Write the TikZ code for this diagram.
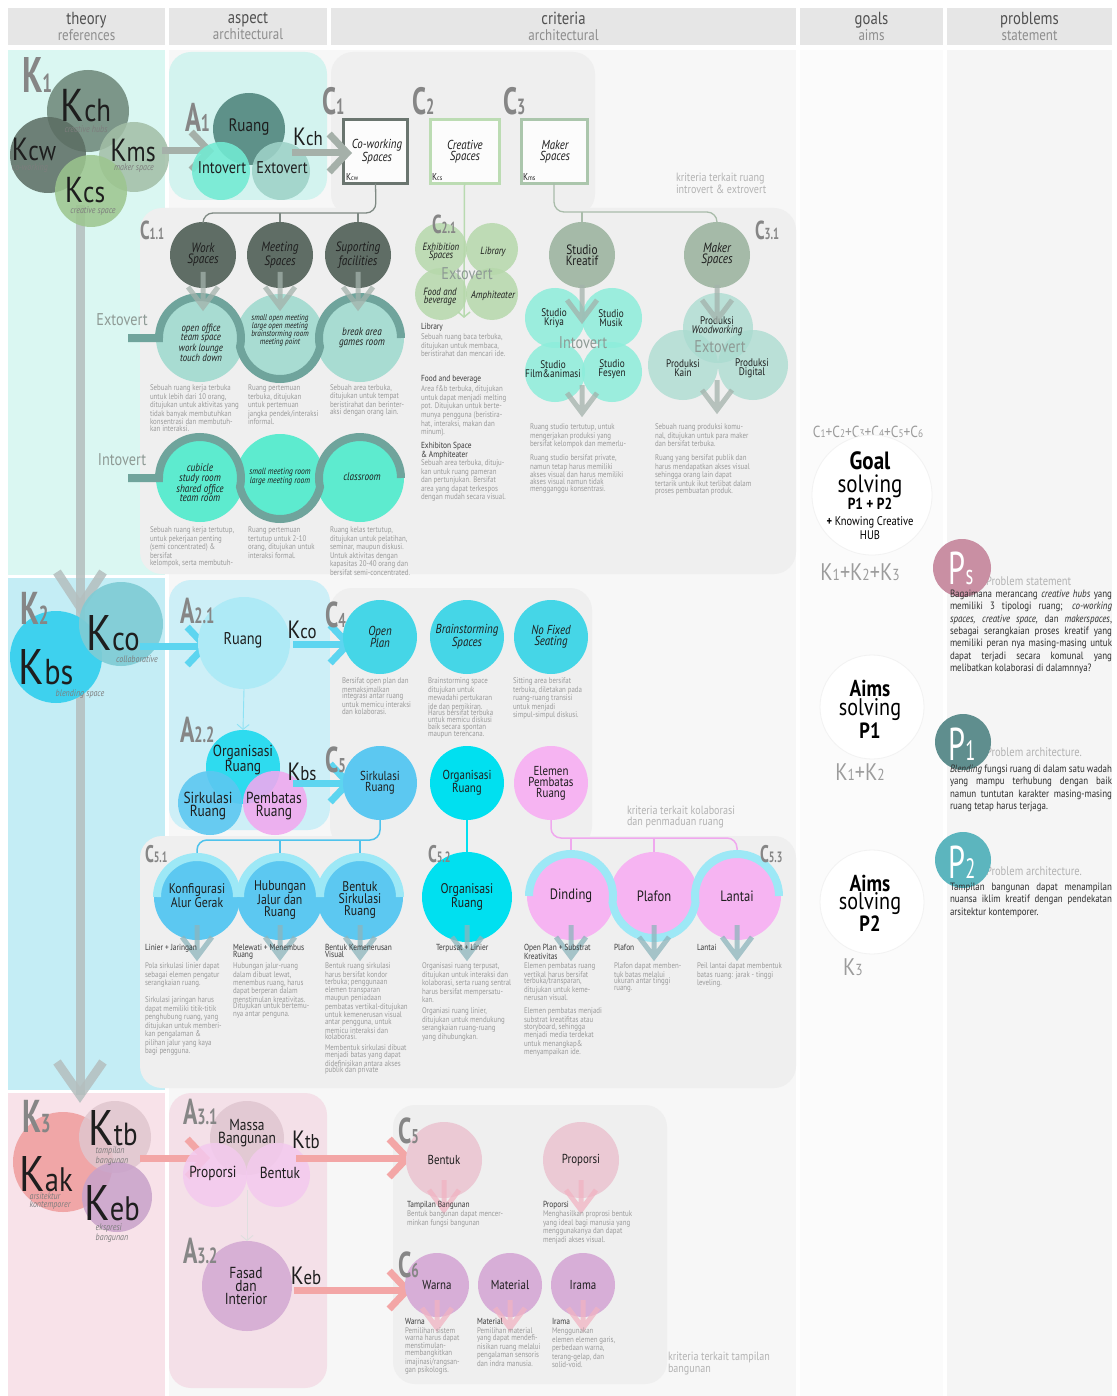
\documentclass[tikz,border=0pt]{standalone}
\usepackage{fontspec}
\setmainfont{PT Sans}[FakeStretch=0.84]
\newfontfamily\narrowf{PT Sans}[FakeStretch=0.66]
\usetikzlibrary{arrows.meta}
\newcommand\fs[2]{\fontsize{#1}{#2}\selectfont}
\newcommand\subf[2]{{\fs{#1}{#1}#2}}
\newcommand\kk[3]{{\fs{#1}{#1}K}{\fs{#2}{#2}#3}}
\newcommand\jl[1]{\hbox to 162pt{#1}}
\newcommand\jlast[1]{\hbox to 162pt{#1\hfil}}
\definecolor{hdrfill}{HTML}{E6E6E6}
\definecolor{hdrtxt}{HTML}{505050}
\definecolor{hdrsub}{HTML}{8E8E8E}
\definecolor{bgmain}{HTML}{F7F7F7}
\definecolor{panelc}{HTML}{EFEFEF}
\definecolor{goalbg}{HTML}{FBFBFB}
\definecolor{probbg}{HTML}{F5F5F5}
\definecolor{kone}{HTML}{DAF7F2}
\definecolor{ktwo}{HTML}{C4EDF5}
\definecolor{kthree}{HTML}{F8E2E9}
\definecolor{aone}{HTML}{D3F3EF}
\definecolor{atwo}{HTML}{CDEFF7}
\definecolor{athree}{HTML}{F4E0E8}
\definecolor{labgray}{HTML}{868686}
\definecolor{txt}{HTML}{1E1E1E}
\definecolor{descgray}{HTML}{9A9A9A}
\definecolor{subhc}{HTML}{3A3A3A}
\definecolor{capc}{HTML}{7D7D7D}
\definecolor{glc}{HTML}{8E9A95}
\definecolor{notec}{HTML}{B3B3B3}
\definecolor{partxt}{HTML}{2E2E2E}
\definecolor{trunkc}{HTML}{B4BEBE}
\definecolor{garrowc}{HTML}{A5B0A9}
\definecolor{chevc}{HTML}{A3B2AB}
\definecolor{kchc}{HTML}{6F897B}
\definecolor{kcwc}{HTML}{5B6C62}
\definecolor{kmsc}{HTML}{A2BEA6}
\definecolor{kcsc}{HTML}{9CC58E}
\definecolor{rua}{HTML}{5E9189}
\definecolor{intc}{HTML}{72EBD3}
\definecolor{extc}{HTML}{9ED3C8}
\definecolor{cboxa}{HTML}{6A756F}
\definecolor{cboxb}{HTML}{BCDCB3}
\definecolor{cboxc}{HTML}{ABC6AC}
\definecolor{darkc}{HTML}{5F6D65}
\definecolor{treec}{HTML}{7E8983}
\definecolor{treel}{HTML}{A9BCAA}
\definecolor{extfill}{HTML}{A8DCD2}
\definecolor{intfill}{HTML}{5DEBCF}
\definecolor{bandc}{HTML}{6FA49C}
\definecolor{greenc}{HTML}{B6D8AB}
\definecolor{greenl}{HTML}{B8DAB0}
\definecolor{studc}{HTML}{A5BAA8}
\definecolor{aquac}{HTML}{8DEDDB}
\definecolor{mkc}{HTML}{A9DBD0}
\definecolor{kbsc}{HTML}{3ED1EE}
\definecolor{kcoc}{HTML}{7FCCD5}
\definecolor{cyanarr}{HTML}{5DD5F0}
\definecolor{ruangb}{HTML}{AEEAF6}
\definecolor{orgc}{HTML}{2EDBEF}
\definecolor{sirc}{HTML}{5CC8F1}
\definecolor{pemc}{HTML}{F1A8EF}
\definecolor{cfour}{HTML}{45D6E7}
\definecolor{orgcb}{HTML}{00E0F0}
\definecolor{elc}{HTML}{F6B4F2}
\definecolor{blueband}{HTML}{9DE8F6}
\definecolor{bluetree}{HTML}{4FC3EC}
\definecolor{pinktree}{HTML}{EFA8EE}
\definecolor{chevb}{HTML}{8DB5BC}
\definecolor{kakc}{HTML}{F09E9E}
\definecolor{ktbc}{HTML}{E0C6CE}
\definecolor{kebc}{HTML}{C8A2CA}
\definecolor{pinkarr}{HTML}{F3A6A6}
\definecolor{massc}{HTML}{E2C9D3}
\definecolor{propc}{HTML}{F3C9EE}
\definecolor{fasc}{HTML}{D7B0D5}
\definecolor{cfivek}{HTML}{EBC9D4}
\definecolor{csixk}{HTML}{D7AED7}
\definecolor{chevp}{HTML}{F1B3C2}
\definecolor{psc}{HTML}{C98FA3}
\definecolor{ponec}{HTML}{5F8E8E}
\definecolor{ptwoc}{HTML}{5CB5BE}
\definecolor{goalring}{HTML}{F2F2F2}
\definecolor{sumc}{HTML}{9C9C9C}
\tikzset{
  every node/.style={inner sep=0pt, outer sep=0pt},
  cir/.style={circle, minimum size={2*#1}, inner sep=0pt},
  bl/.style={anchor=base west, text=labgray, font=\narrowf\bfseries},
  hdr/.style={fill=hdrfill, minimum height=37pt, align=center, text=hdrtxt, font=\fs{17.5}{16}},
  desc/.style={anchor=north west, align=left, text=descgray, font=\fs{8.2}{6.7}},
  subh/.style={anchor=north west, align=left, text=subhc, font=\fs{8.8}{7.2}},
  ct/.style={align=center, text=txt},
  kt/.style={text=txt, anchor=base},
  capt/.style={text=capc, font=\itshape\fs{9.5}{7.5}, align=left},
  gl/.style={text=glc, font=\fs{17}{17}},
  note/.style={anchor=north west, align=left, text=notec, font=\fs{12}{10.5}},
  garrow/.style={draw=garrowc, line width=7pt, -{Straight Barb[length=18pt, width=38pt]}},
  carrow/.style={garrow, draw=cyanarr},
  parrow/.style={garrow, draw=pinkarr},
  thinarr/.style={line width=0.9pt, -{Straight Barb[length=5pt, width=12pt]}},
  trunk/.style={draw=trunkc, line width=9pt, draw opacity=0.85, line join=miter},
  chv/.style={line width=5pt, draw opacity=0.75, line join=miter},
  bandst/.style={line width=8pt},
  tree/.style={line width=1.3pt, rounded corners=10pt},
  para/.style={anchor=north west, align=left, text=partxt, font=\fs{10.6}{12.3}},
}
\newcommand\dchev[4]{\draw[chv, draw=#4] (#1,#2) -- (#1,#3) (#1-15,#3-20) -- (#1,#3) -- (#1+15,#3-20);}
\begin{document}
\begin{tikzpicture}[x=1pt,y=-1pt]
\useasboundingbox (0,0) rectangle (1116,1396);
\fill[white] (0,0) rectangle (1116,1396);
% ---------- column backgrounds
\fill[bgmain] (169,50) rectangle (796,1396);
\fill[goalbg] (800,50) rectangle (943,1396);
\fill[probbg] (947,50) rectangle (1112,1396);
\fill[kone] (8,50) rectangle (165,575);
\fill[ktwo] (8,578) rectangle (165,1090);
\fill[kthree] (8,1093) rectangle (165,1396);
% ---------- headers
\node[hdr, minimum width=157pt] (hth) at (86.5,26.5) {theory\\{\fs{15.5}{15}\color{hdrsub}references}};
\node[hdr, minimum width=158pt] (has) at (248,26.5) {aspect\\{\fs{15.5}{15}\color{hdrsub}architectural}};
\node[hdr, minimum width=465pt] (hcr) at (563.5,26.5) {criteria\\{\fs{15.5}{15}\color{hdrsub}architectural}};
\node[hdr, minimum width=143pt] (hgo) at (871.5,26.5) {goals\\{\fs{15.5}{15}\color{hdrsub}aims}};
\node[hdr, minimum width=165pt] (hpr) at (1029.5,26.5) {problems\\{\fs{15.5}{15}\color{hdrsub}statement}};
% ---------- panels
\fill[aone, rounded corners=22pt] (169,52) rectangle (327,200);
\fill[panelc, rounded corners=22pt] (331,52) rectangle (595,216);
\fill[panelc, rounded corners=22pt] (140,208) rectangle (796,574);
\fill[atwo, rounded corners=22pt] (169,580) rectangle (330,830);
\fill[panelc, rounded corners=22pt] (330,588) rectangle (592,848);
\fill[panelc, rounded corners=22pt] (140,836) rectangle (796,1088);
\fill[athree, rounded corners=22pt] (169,1093) rectangle (327,1388);
\fill[panelc, rounded corners=22pt] (393,1105) rectangle (667,1384);
% ---------- trunk
\coordinate (trA) at (80,205);
\coordinate (trB) at (80,607);
\coordinate (trC) at (80,1095);
\draw[trunk] (trA) -- (trC);
\draw[trunk] (57,572) -- (trB) -- (103,572);
\draw[trunk] (57,1062) -- (trC) -- (103,1062);

% =============== K1 ===============
\node[cir=41, fill=kchc, fill opacity=0.88] (kch) at (88,111) {};
\node[cir=38, fill=kcwc, fill opacity=0.85] (kcw) at (48,155) {};
\node[cir=35, fill=kmsc, fill opacity=0.85] (kms) at (134,157) {};
\node[cir=36, fill=kcsc, fill opacity=0.85] (kcs) at (91,191) {};
\node[kt] (tkch) at (86,122) {\kk{46}{32}{ch}};
\node[capt] (ckch) at (86,129) {creative hubs};
\node[kt] (tkcw) at (34,161) {\kk{32}{28}{cw}};
\node[capt] (ckcw) at (30,168) {co-working};
\node[kt] (tkms) at (133,162) {\kk{32}{28}{ms}};
\node[capt] (ckms) at (134,168) {maker space};
\node[kt] (tkcs) at (85,203) {\kk{36}{30}{cs}};
\node[capt] (ckcs) at (93,211) {creative space};
\coordinate (kao) at (162,151);
\coordinate (kai) at (214,151);
\draw[garrow] (kao) -- (kai);
% A1
\node[cir=36, fill=rua] (a1r) at (249,129) {};
\node[cir=29, fill=intc, fill opacity=0.88] (a1i) at (221,171) {};
\node[cir=29, fill=extc, fill opacity=0.88] (a1e) at (281,171) {};
\node[ct, font=\fs{18}{18}] (ta1r) at (249,127) {Ruang};
\node[ct, font=\fs{17}{17}] (ta1i) at (222,168) {Intovert};
\node[ct, font=\fs{17}{17}] (ta1e) at (282,168) {Extovert};
\node[kt] (ka1) at (308,146) {\kk{25}{20}{ch}};
\coordinate (a1o) at (292,153);
% C boxes
\node[draw=cboxa, line width=3pt, fill=white, fill opacity=0.85, minimum width=64pt, minimum height=64pt] (c1box) at (375.5,151.5) {};
\node[draw=cboxb, line width=3pt, fill=white, fill opacity=0.85, minimum width=69pt, minimum height=64pt] (c2box) at (464.5,151.5) {};
\node[draw=cboxc, line width=3pt, fill=white, fill opacity=0.85, minimum width=66pt, minimum height=64pt] (c3box) at (554,151.5) {};
\draw[garrow] (a1o) -- (352,153);
\node[ct, font=\itshape\fs{13}{11}] (tc1) at (377,152) {Co-working\\Spaces};
\node[ct, font=\itshape\fs{13}{11}] (tc2) at (465,152) {Creative\\Spaces};
\node[ct, font=\itshape\fs{13}{11}] (tc3) at (555,152) {Maker\\Spaces};
\node[kt, anchor=base west] (kc1) at (346,181) {\kk{10}{7}{cw}};
\node[kt, anchor=base west] (kc2) at (432,181) {\kk{10}{7}{cs}};
\node[kt, anchor=base west] (kc3) at (523,181) {\kk{10}{7}{ms}};
\node[note] (nt1) at (676,173) {kriteria terkait ruang\\introvert \& extrovert};
% C1.1 tree
\node[cir=33, fill=darkc, ct, font=\itshape\fs{13.5}{11}] (ws) at (203,255) {Work\\Spaces};
\node[cir=33, fill=darkc, ct, font=\itshape\fs{13.5}{11}] (mts) at (280,255) {Meeting\\Spaces};
\node[cir=33, fill=darkc, ct, font=\itshape\fs{13.5}{11}] (sfc) at (358,255) {Suporting\\facilities};
\draw[tree, draw=treec] (c1box.south) -- (376,213) -- (203,213) -- (ws.north);
\coordinate (tba) at (280,213);
\coordinate (tbb) at (358,213);
\draw[tree, draw=treec] (tba) -- (mts.north);
\draw[tree, draw=treec] (tbb) -- (sfc.north);
% Extovert row
\node[gl] (lext) at (122,320) {Extovert};
\node[cir=44, fill=extfill] (ea) at (200,338) {};
\node[cir=44, fill=extfill] (eb) at (280,338) {};
\node[cir=44, fill=extfill] (ec) at (360,338) {};
\draw[bandst, draw=bandc] (128,338) -- (159,338) arc[start angle=180, end angle=372.68, radius=41] arc[start angle=167.32, end angle=12.68, radius=41] arc[start angle=167.32, end angle=360, radius=41];
\node[ct, font=\itshape\fs{10.5}{9}] (tea) at (201,343) {open office\\team space\\work lounge\\touch down};
\node[ct, font=\itshape\fs{8.5}{8}] (teb) at (280,330) {small open meeting\\large open meeting\\brainstorming room\\meeting point};
\node[ct, font=\itshape\fs{11}{10}] (tec) at (362,338) {break area\\games room};
\dchev{203}{272}{307}{chevc}
\dchev{280}{272}{307}{chevc}
\dchev{358}{272}{307}{chevc}
\node[desc] (dea) at (150,385) {Sebuah ruang kerja terbuka\\untuk lebih dari 10 orang,\\ditujukan untuk aktivitas yang\\tidak banyak membutuhkan\\konsentrasi dan membutuh-\\kan interaksi.};
\node[desc] (deb) at (248,385) {Ruang pertemuan\\terbuka, ditujukan\\untuk pertemuan\\jangka pendek/interaksi\\informal.};
\node[desc] (dec) at (330,385) {Sebuah area terbuka,\\ditujukan untuk tempat\\beristirahat dan berinter-\\aksi dengan orang lain.};
% Intovert row
\node[gl] (lint) at (122,460) {Intovert};
\node[cir=44, fill=intfill] (ia) at (200,478) {};
\node[cir=44, fill=intfill] (ib) at (280,478) {};
\node[cir=44, fill=intfill] (ic) at (360,478) {};
\draw[bandst, draw=bandc] (128,478) -- (159,478) arc[start angle=180, end angle=372.68, radius=41] arc[start angle=167.32, end angle=12.68, radius=41] arc[start angle=167.32, end angle=360, radius=41];
\node[ct, font=\itshape\fs{11}{9.5}] (tia) at (200,483) {cubicle\\study room\\shared office\\team room};
\node[ct, font=\itshape\fs{9}{8.5}] (tib) at (280,477) {small meeting room\\large meeting room};
\node[ct, font=\itshape\fs{11}{10}] (tic) at (362,477) {classroom};
\node[desc] (dia) at (150,527) {Sebuah ruang kerja tertutup,\\untuk pekerjaan penting\\(semi concentrated) \&\\bersifat\\kelompok, serta membutuh-};
\node[desc] (dib) at (248,527) {Ruang pertemuan\\tertutup untuk 2-10\\orang, ditujukan untuk\\interaksi formal.};
\node[desc] (dic) at (330,527) {Ruang kelas tertutup,\\ditujukan untuk pelatihan,\\seminar, maupun diskusi.\\Untuk aktivitas dengan\\kapasitas 20-40 orang dan\\bersifat semi-concentrated.};
% C2.1
\coordinate (c2end) at (464,318);
\draw[thinarr, draw=greenl, line width=1.5pt] (c2box.south) -- (c2end);
\node[cir=26, fill=greenc, fill opacity=0.85] (gex) at (441,249) {};
\node[cir=26, fill=greenc, fill opacity=0.85] (gli) at (492,249) {};
\node[cir=26, fill=greenc, fill opacity=0.85] (gfo) at (441,294) {};
\node[cir=26, fill=greenc, fill opacity=0.85] (gam) at (492,294) {};
\node[gl] (lgext) at (467,274) {Extovert};
\node[ct, font=\itshape\fs{10.5}{8.5}] (tgex) at (441,252) {Exhibition\\Spaces};
\node[ct, font=\itshape\fs{10.5}{8.5}] (tgli) at (493,252) {Library};
\node[ct, font=\itshape\fs{10.5}{8.5}] (tgfo) at (440,297) {Food and\\beverage};
\node[ct, font=\itshape\fs{10.5}{8.5}] (tgam) at (493,296) {Amphiteater};
\node[subh] (sgl) at (421,323) {Library};
\node[desc] (dgl) at (421,334) {Sebuah ruang baca terbuka,\\ditujukan untuk membaca,\\beristirahat dan mencari ide.};
\node[subh] (sgf) at (421,375) {Food and beverage};
\node[desc] (dgf) at (421,386) {Area f\&b terbuka, ditujukan\\untuk dapat menjadi melting\\pot. Ditujukan untuk berte-\\munya pengguna (beristira-\\hat, interaksi, makan dan\\minum).};
\node[subh] (sge) at (421,442) {Exhibiton Space\\\& Amphiteater};
\node[desc] (dge) at (421,460) {Sebuah area terbuka, dituju-\\kan untuk ruang pameran\\dan pertunjukan. Bersifat\\area yang dapat terkespos\\dengan mudah secara visual.};
% C3 tree / studio / maker
\node[cir=33, fill=studc, ct, font=\fs{13.5}{11}] (stk) at (582,255) {Studio\\Kreatif};
\node[cir=33, fill=studc, ct, font=\itshape\fs{13.5}{11}] (msp) at (717,255) {Maker\\Spaces};
\draw[tree, draw=treel] (c3box.south) -- (554,212) -- (717,212) -- (msp.north);
\coordinate (tbc) at (582,212);
\draw[tree, draw=treel] (tbc) -- (stk.north);
\node[cir=30, fill=aquac, fill opacity=0.85] (sa) at (555,318) {};
\node[cir=30, fill=aquac, fill opacity=0.85] (sb) at (612,318) {};
\node[cir=30, fill=aquac, fill opacity=0.85] (sc) at (555,372) {};
\node[cir=30, fill=aquac, fill opacity=0.85] (sd) at (612,372) {};
\node[gl] (lsint) at (583,343) {Intovert};
\node[ct, font=\fs{11}{9}] (tsa) at (554,318) {Studio\\Kriya};
\node[ct, font=\fs{11}{9}] (tsb) at (611,318) {Studio\\Musik};
\node[ct, font=\fs{11}{9}] (tsc) at (553,369) {Studio\\Film\&animasi};
\node[ct, font=\fs{11}{9}] (tsd) at (612,369) {Studio\\Fesyen};
\dchev{582}{285}{320}{chevc}
\dchev{582}{385}{413}{chevc}
\node[cir=35, fill=mkc, fill opacity=0.75] (ma) at (718,328) {};
\node[cir=35, fill=mkc, fill opacity=0.75] (mb) at (683,365) {};
\node[cir=35, fill=mkc, fill opacity=0.75] (mc) at (753,365) {};
\node[gl] (lmext) at (720,347) {Extovert};
\node[ct, font=\fs{11}{9}] (tma) at (717,326) {Produksi\\\textit{Woodworking}};
\node[ct, font=\fs{11}{9}] (tmb) at (683,368) {Produksi\\Kain};
\node[ct, font=\fs{11}{9}] (tmc) at (752,368) {Produksi\\Digital};
\dchev{717}{285}{320}{chevc}
\dchev{717}{380}{410}{chevc}
\node[desc] (dsa) at (530,424) {Ruang studio tertutup, untuk\\mengerjakan produksi yang\\bersifat kelompok dan memerlu-};
\node[desc] (dsb) at (530,455) {Ruang studio bersifat private,\\namun tetap harus memiliki\\akses visual dan harus memiliki\\akses visual namun tidak\\mengganggu konsentrasi.};
\node[desc] (dma) at (655,424) {Sebuah ruang produksi komu-\\nal, ditujukan untuk para maker\\dan bersifat terbuka.};
\node[desc] (dmb) at (655,455) {Ruang yang bersifat publik dan\\harus mendapatkan akses visual\\sehingga orang lain dapat\\tertarik untuk ikut terlibat dalam\\proses pembuatan produk.};

% =============== K2 ===============
\node[cir=46, fill=kbsc] (kbs) at (56,657) {};
\node[cir=42, fill=kcoc, fill opacity=0.92] (kco) at (121,624) {};
\node[kt] (tkco) at (113,650) {\kk{50}{34}{co}};
\node[capt] (ckco) at (137,659) {collaborative};
\node[kt] (tkbs) at (46,684) {\kk{50}{36}{bs}};
\node[capt] (ckbs) at (80,694) {blending space};
\coordinate (kbo) at (140,646);
\coordinate (kbi) at (210,646);
\draw[carrow] (kbo) -- (kbi);
\node[cir=46, fill=ruangb] (a21r) at (244,643) {};
\node[ct, font=\fs{17}{17}] (ta21) at (243,640) {Ruang};
\node[kt] (ka21) at (302,638) {\kk{25}{20}{co}};
\coordinate (a21o) at (293,644);
\draw[carrow] (a21o) -- (353,644);
\node[cir=37, fill=orgc] (a22o) at (243,767) {};
\node[cir=32, fill=sirc, fill opacity=0.9] (a22s) at (210,803) {};
\node[cir=32, fill=pemc, fill opacity=0.88] (a22p) at (275,803) {};
\draw[thinarr, draw=cyanarr!70] (a21r.south) -- (a22o.north);
\node[ct, font=\fs{16}{13}] (ta22o) at (243,760) {Organisasi\\Ruang};
\node[ct, font=\fs{16}{13}] (ta22s) at (208,806) {Sirkulasi\\Ruang};
\node[ct, font=\fs{16}{13}] (ta22p) at (274,806) {Pembatas\\Ruang};
\node[kt] (ka22) at (302,780) {\kk{25}{20}{bs}};
\coordinate (a22out) at (293,783);
\draw[carrow] (a22out) -- (353,783);
% C4
\node[cir=37, fill=cfour, ct, font=\itshape\fs{13}{11}] (c4a) at (380,637) {Open\\Plan};
\node[cir=37, fill=cfour, ct, font=\itshape\fs{13}{11}] (c4b) at (467,637) {Brainstorming\\Spaces};
\node[cir=37, fill=cfour, ct, font=\itshape\fs{13}{11}] (c4c) at (551,637) {No Fixed\\Seating};
\node[desc] (d4a) at (342,678) {Bersifat open plan dan\\memaksimalkan\\integrasi antar ruang\\untuk memicu interaksi\\dan kolaborasi.};
\node[desc] (d4b) at (428,678) {Brainstorming space\\ditujukan untuk\\mewadahi pertukaran\\ide dan pemikiran.};
\node[desc] (d4c) at (428,710) {Harus bersifat terbuka\\untuk memicu diskusi\\baik secara spontan\\maupun terencana.};
\node[desc] (d4d) at (513,678) {Sitting area bersifat\\terbuka, diletakan pada\\ruang-ruang transisi\\untuk menjadi\\simpul-simpul diskusi.};
% C5
\node[note] (nt2) at (627,806) {kriteria terkait kolaborasi\\dan penmaduan ruang};
\draw[tree, draw=bluetree, line width=1.5pt] (380,818) -- (380,840) -- (197,840) -- (197,856);
\coordinate (btb) at (280,840);
\coordinate (btc) at (360,840);
\draw[tree, draw=bluetree, line width=1.5pt] (btb) -- (280,856);
\draw[tree, draw=bluetree, line width=1.5pt] (btc) -- (360,856);
\draw[draw=orgcb, line width=1.5pt] (467,818) -- (467,856);
\draw[tree, draw=pinktree, line width=1.5pt] (551,818) -- (551,838) -- (737,838) -- (737,856);
\coordinate (ptb) at (571,838);
\coordinate (ptc) at (654,838);
\draw[tree, draw=pinktree, line width=1.5pt] (ptb) -- (571,856);
\draw[tree, draw=pinktree, line width=1.5pt] (ptc) -- (654,856);
\node[cir=37, fill=sirc, ct, font=\fs{13}{11}] (c5a) at (380,783) {Sirkulasi\\Ruang};
\node[cir=37, fill=orgcb, ct, font=\fs{13}{11}] (c5b) at (467,783) {Organisasi\\Ruang};
\node[cir=37, fill=elc, ct, font=\fs{13}{11}] (c5c) at (551,783) {Elemen\\Pembatas\\Ruang};
% C5.1 - C5.3
\node[cir=43, fill=sirc] (s1a) at (197,897) {};
\node[cir=43, fill=sirc] (s1b) at (280,897) {};
\node[cir=43, fill=sirc] (s1c) at (360,897) {};
\draw[bandst, draw=blueband] (157,897) arc[start angle=180, end angle=360, radius=40];
\draw[bandst, draw=blueband] (240,897) arc[start angle=180, end angle=360, radius=40];
\draw[bandst, draw=blueband] (320,897) arc[start angle=180, end angle=360, radius=40];
\node[ct, font=\fs{14}{12}] (ts1a) at (197,896) {Konfigurasi\\Alur Gerak};
\node[ct, font=\fs{14}{12}] (ts1b) at (280,900) {Hubungan\\Jalur dan\\Ruang};
\node[ct, font=\fs{14}{12}] (ts1c) at (360,900) {Bentuk\\Sirkulasi\\Ruang};
\node[cir=45, fill=orgcb, ct, font=\fs{14}{12}] (s2a) at (467,897) {Organisasi\\Ruang};
\node[cir=44, fill=elc] (s3a) at (571,896) {};
\node[cir=44, fill=elc] (s3b) at (654,896) {};
\node[cir=44, fill=elc] (s3c) at (737,896) {};
\draw[bandst, draw=blueband] (529,896) arc[start angle=180, end angle=368.86, radius=42] arc[start angle=171.14, end angle=8.86, radius=42] arc[start angle=171.14, end angle=360, radius=42];
\node[ct, font=\fs{15}{15}] (ts3a) at (571,896) {Dinding};
\node[ct, font=\fs{15}{15}] (ts3b) at (654,896) {Plafon};
\node[ct, font=\fs{15}{15}] (ts3c) at (737,896) {Lantai};
\dchev{197}{925}{957}{chevb}
\dchev{280}{925}{957}{chevb}
\dchev{360}{925}{957}{chevb}
\dchev{467}{925}{957}{chevb}
\dchev{571}{925}{957}{chevb}
\dchev{654}{925}{957}{chevb}
\dchev{737}{925}{957}{chevb}
\node[subh] (h51a) at (145,944) {Linier + Jaringan};
\node[desc] (d51a) at (145,963) {Pola sirkulasi linier dapat\\sebagai elemen pengatur\\serangkaian ruang.};
\node[desc] (d51b) at (145,997) {Sirkulasi jaringan harus\\dapat memiliki titik-titik\\penghubung ruang, yang\\ditujukan untuk memberi-\\kan pengalaman \&\\pilihan jalur yang kaya\\bagi pengguna.};
\node[subh] (h51b) at (233,944) {Melewati + Menembus\\Ruang};
\node[desc] (d51c) at (233,963) {Hubungan jalur-ruang\\dalam dibuat lewat,\\menembus ruang, harus\\dapat berperan dalam\\menstimulan kreativitas.\\Ditujukan untuk bertemu-\\nya antar penguna.};
\node[subh] (h51c) at (325,944) {Bentuk Kemenerusan\\Visual};
\node[desc] (d51d) at (325,963) {Bentuk ruang sirkulasi\\harus bersifat kondor\\terbuka; penggunaan\\elemen transparan\\maupun peniadaan\\pembatas vertikal-ditujukan\\untuk kemenerusan visual\\antar pengguna, untuk\\memicu interaksi dan\\kolaborasi.};
\node[desc] (d51e) at (325,1045) {Membentuk sirkulasi dibuat\\menjadi batas yang dapat\\didefinisikan antara akses\\publik dan private};
\node[subh] (h52a) at (436,944) {Terpusat + Linier};
\node[desc] (d52a) at (422,963) {Organisasi ruang terpusat,\\ditujukan untuk interaksi dan\\kolaborasi, serta ruang sentral\\harus bersifat mempersatu-\\kan.};
\node[desc] (d52b) at (422,1008) {Organiasi ruang linier,\\ditujukan untuk mendukung\\serangkaian ruang-ruang\\yang dihubungkan.};
\node[subh] (h53a) at (524,944) {Open Plan + Substrat\\Kreativitas};
\node[desc] (d53a) at (524,963) {Elemen pembatas ruang\\vertikal harus bersifat\\terbuka/transparan,\\ditujukan untuk keme-\\nerusan visual.};
\node[desc] (d53b) at (524,1008) {Elemen pembatas menjadi\\substrat kreatifitas atau\\storyboard, sehingga\\menjadi media terdekat\\untuk menangkap\&\\menyampaikan ide.};
\node[subh] (h53b) at (614,944) {Plafon};
\node[desc] (d53c) at (614,963) {Plafon dapat memben-\\tuk batas melalui\\ukuran antar tinggi\\ruang.};
\node[subh] (h53c) at (697,944) {Lantai};
\node[desc] (d53d) at (697,963) {Peil lantai dapat membentuk\\batas ruang: jarak - tinggi\\leveling.};

% =============== K3 ===============
\node[cir=50, fill=kakc, fill opacity=0.88] (kak) at (63,1162) {};
\node[cir=36, fill=ktbc, fill opacity=0.85] (ktb) at (115,1137) {};
\node[cir=35, fill=kebc, fill opacity=0.85] (keb) at (117,1197) {};
\node[kt] (tktb) at (113,1145) {\kk{50}{32}{tb}};
\node[capt, font=\itshape\fs{9.5}{7.5}] (cktb) at (112,1156) {tampilan\\bangunan};
\node[kt] (tkak) at (46,1191) {\kk{50}{34}{ak}};
\node[capt] (ckak) at (50,1201) {arsitektur\\kontemporer};
\node[kt] (tkeb) at (112,1220) {\kk{50}{34}{eb}};
\node[capt] (ckeb) at (112,1233) {ekspresi\\bangunan};
\coordinate (kco3) at (140,1158);
\coordinate (kci3) at (210,1158);
\draw[parrow] (kco3) -- (kci3);
\node[cir=37, fill=massc] (a31m) at (247,1138) {};
\node[cir=32, fill=propc, fill opacity=0.85] (a31p) at (215,1175) {};
\node[cir=32, fill=propc, fill opacity=0.85] (a31b) at (278,1175) {};
\node[ct, font=\fs{16}{13}] (ta31m) at (247,1133) {Massa\\Bangunan};
\node[ct, font=\fs{16}{16}] (ta31p) at (213,1173) {Proporsi};
\node[ct, font=\fs{16}{16}] (ta31b) at (280,1173) {Bentuk};
\node[kt] (ka31) at (306,1148) {\kk{25}{20}{tb}};
\coordinate (a31o) at (296,1158);
\draw[parrow] (a31o) -- (412,1158);
\node[cir=45, fill=fasc] (a32f) at (247,1286) {};
\coordinate (a31d) at (247,1190);
\draw[thinarr, draw=white!75!gray] (a31d) -- (a32f.north);
\node[ct, font=\fs{16}{13}] (ta32f) at (246,1286) {Fasad\\dan\\Interior};
\node[kt] (ka32) at (306,1284) {\kk{25}{20}{eb}};
\coordinate (a32o) at (294,1290);
\draw[parrow] (a32o) -- (412,1290);
\node[cir=38, fill=cfivek, ct, font=\fs{13}{13}] (k5a) at (444,1160) {Bentuk};
\node[cir=38, fill=cfivek, ct, font=\fs{13}{13}] (k5b) at (581,1160) {Proporsi};
\dchev{444}{1180}{1210}{chevp}
\dchev{581}{1180}{1210}{chevp}
\node[subh] (h5ka) at (407,1201) {Tampilan Bangunan};
\node[desc] (d5ka) at (407,1211) {Bentuk bangunan dapat mencer-\\minkan fungsi bangunan};
\node[subh] (h5kb) at (543,1201) {Proporsi};
\node[desc] (d5kb) at (543,1211) {Menghasilkan proprosi bentuk\\yang ideal bagi manusia yang\\menggunakanya dan dapat\\menjadi akses visual.};
\node[cir=32, fill=csixk, ct, font=\fs{13}{13}] (k6a) at (437,1285) {Warna};
\node[cir=32, fill=csixk, ct, font=\fs{13}{13}] (k6b) at (510,1285) {Material};
\node[cir=32, fill=csixk, ct, font=\fs{13}{13}] (k6c) at (583,1285) {Irama};
\dchev{437}{1300}{1328}{chevp}
\dchev{510}{1300}{1328}{chevp}
\dchev{583}{1300}{1328}{chevp}
\node[subh] (h6a) at (405,1318) {Warna};
\node[desc] (d6a) at (405,1328) {Pemilihan sistem\\warna harus dapat\\menstimulan-\\membangkitkan\\imajinasi/rangsan-\\gan psikologis.};
\node[subh] (h6b) at (477,1318) {Material};
\node[desc] (d6b) at (477,1328) {Pemilihan material\\yang dapat mendefi-\\nisikan ruang melalui\\pengalaman sensoris\\dan indra manusia.};
\node[subh] (h6c) at (552,1318) {Irama};
\node[desc] (d6c) at (552,1328) {Menggunakan\\elemen elemen garis,\\perbedaan warna,\\terang-gelap, dan\\solid-void.};
\node[note] (nt3) at (668,1352) {kriteria terkait tampilan\\bangunan};

% =============== big labels (on top) ===============
\node[bl] (lk1) at (22,93) {\subf{50}{K}\subf{26}{1}};
\node[bl] (la1) at (185,132) {\subf{40}{A}\subf{24}{1}};
\node[bl] (lc1) at (322,115) {\subf{38}{C}\subf{22}{1}};
\node[bl] (lc2) at (412,115) {\subf{38}{C}\subf{22}{2}};
\node[bl] (lc3) at (503,115) {\subf{38}{C}\subf{22}{3}};
\node[bl] (lc11) at (140,240) {\subf{26}{C}\subf{16}{1.1}};
\node[bl] (lc21) at (432,234) {\subf{26}{C}\subf{16}{2.1}};
\node[bl] (lc31) at (755,240) {\subf{26}{C}\subf{16}{3.1}};
\node[bl] (lk2) at (20,624) {\subf{46}{K}\subf{26}{2}};
\node[bl] (la21) at (180,623) {\subf{36}{A}\subf{22}{2.1}};
\node[bl] (la22) at (180,742) {\subf{36}{A}\subf{22}{2.2}};
\node[bl] (lc4) at (325,627) {\subf{36}{C}\subf{20}{4}};
\node[bl] (lc5) at (325,772) {\subf{36}{C}\subf{20}{5}};
\node[bl] (lc51) at (145,862) {\subf{24}{C}\subf{15}{5.1}};
\node[bl] (lc52) at (428,862) {\subf{24}{C}\subf{15}{5.2}};
\node[bl] (lc53) at (760,862) {\subf{24}{C}\subf{15}{5.3}};
\node[bl] (lk3) at (22,1132) {\subf{46}{K}\subf{26}{3}};
\node[bl] (la31) at (183,1124) {\subf{36}{A}\subf{22}{3.1}};
\node[bl] (la32) at (183,1263) {\subf{36}{A}\subf{22}{3.2}};
\node[bl] (lc5k) at (398,1143) {\subf{36}{C}\subf{20}{5}};
\node[bl] (lc6k) at (398,1277) {\subf{36}{C}\subf{20}{6}};

% =============== goals ===============
\node[text=sumc, font=\fs{16}{16}] (csum) at (868,432) {C\subf{11}{1}+C\subf{11}{2}+C\subf{11}{3}+C\subf{11}{4}+C\subf{11}{5}+C\subf{11}{6}};
\node[cir=60, fill=white, draw=goalring, line width=0.8pt] (goalc) at (872,495) {};
\node[font=\bfseries\fs{25}{25}, text=black] (goalt) at (870,461) {Goal};
\node[font=\fs{25}{25}, text=black] (goals) at (870,486) {solving};
\node[font=\bfseries\fs{16}{16}, text=black] (goalp) at (870,504) {P1 + P2};
\node[font=\fs{12.5}{13.5}, align=center, text=black] (goalk) at (870,528) {\textbf{+} Knowing Creative\\HUB};
\node[text=sumc, font=\fs{24}{24}] (ksum) at (860,572) {K\subf{16}{1}+K\subf{16}{2}+K\subf{16}{3}};
\node[cir=52, fill=white, draw=goalring, line width=0.8pt] (aimc1) at (872,707) {};
\node[font=\bfseries\fs{23}{23}, text=black] (aim1t) at (870,688) {Aims};
\node[font=\fs{24}{24}, text=black] (aim1s) at (870,710) {solving};
\node[font=\bfseries\fs{22}{22}, text=black] (aim1p) at (870,731) {P1};
\node[text=sumc, font=\fs{24}{24}] (ksum2) at (860,772) {K\subf{16}{1}+K\subf{16}{2}};
\node[cir=52, fill=white, draw=goalring, line width=0.8pt] (aimc2) at (872,902) {};
\node[font=\bfseries\fs{23}{23}, text=black] (aim2t) at (870,883) {Aims};
\node[font=\fs{24}{24}, text=black] (aim2s) at (870,904) {solving};
\node[font=\bfseries\fs{22}{22}, text=black] (aim2p) at (870,924) {P2};
\node[text=sumc, font=\fs{24}{24}] (ksum3) at (853,967) {K\subf{16}{3}};

% =============== problems ===============
\node[anchor=base west, text=notec, font=\fs{12.5}{12.5}] (pshead) at (986,585) {Problem statement};
\node[cir=29, fill=psc] (psc) at (962,568) {};
\node[anchor=base, text=white, font=\narrowf] (pst) at (961,584) {\subf{46}{P}\subf{28}{s}};
\node[para] (pspar) at (950,590) {\jl{Bagaimana merancang \textit{creative hubs} yang}\\\jl{memiliki 3 tipologi ruang; \textit{co-working}}\\\jl{\textit{spaces, creative space,} dan \textit{makerspaces},}\\\jl{sebagai serangkaian proses kreatif yang}\\\jl{memiliki peran nya masing-masing untuk}\\\jl{dapat terjadi secara komunal yang}\\\jlast{melibatkan kolaborasi di dalamnnya?}};
\node[anchor=base west, text=notec, font=\fs{12.5}{12.5}] (p1head) at (986,756) {Problem architecture.};
\node[cir=28, fill=ponec] (p1c) at (963,742) {};
\node[anchor=base, text=white, font=\narrowf] (p1t) at (962,760) {\subf{46}{P}\subf{28}{1}};
\node[para] (p1par) at (950,765) {\jl{\textit{Blending} fungsi ruang di dalam satu wadah}\\\jl{yang mampu terhubung dengan baik}\\\jl{namun tuntutan karakter masing-masing}\\\jlast{ruang tetap harus terjaga.}};
\node[anchor=base west, text=notec, font=\fs{12.5}{12.5}] (p2head) at (986,875) {Problem architecture.};
\node[cir=28, fill=ptwoc] (p2c) at (963,860) {};
\node[anchor=base, text=white, font=\narrowf] (p2t) at (962,878) {\subf{46}{P}\subf{28}{2}};
\node[para] (p2par) at (950,883) {\jl{Tampilan bangunan dapat menampilan}\\\jl{nuansa iklim kreatif dengan pendekatan}\\\jlast{arsitektur kontemporer.}};
\end{tikzpicture}
\end{document}
